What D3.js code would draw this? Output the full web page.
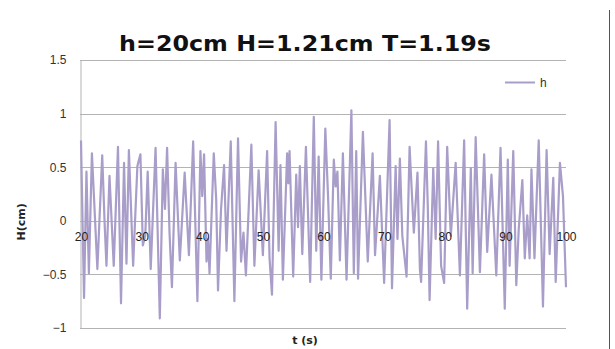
<!DOCTYPE html>
<html>
<head>
<meta charset="utf-8">
<script src="https://cdn.jsdelivr.net/npm/d3@7"></script>
<style>
  html, body { margin: 0; padding: 0; background: #fff; }
  svg { display: block; }
</style>
</head>
<body>
<svg id="chart" width="615" height="349"></svg>
<script>
// Wave record at gauge h: turning points of the surface elevation (time in s, H in cm)
const times = [
  20.0, 20.5, 20.9, 21.3, 21.8, 22.7, 23.5, 23.9, 24.2, 24.7, 25.4, 26.1, 26.6, 27.1, 27.5, 27.9, 28.6, 29.3,
  29.8, 30.2, 30.6, 31.0, 31.5, 32.3, 33.0, 33.5, 33.85, 34.2, 34.6, 35.0, 35.6, 36.3, 37.1, 37.8, 38.5, 39.2,
  39.7, 40.0, 40.3, 40.7, 40.95, 41.2, 41.9, 42.3, 42.6, 43.1, 43.6, 44.0, 44.7, 45.3, 45.9, 46.4, 46.8, 47.2, 48.1, 48.6,
  49.3, 50.0, 50.7, 51.1, 51.5, 52.1, 52.6, 52.9, 53.3, 54.0, 54.2, 54.4, 55.0, 55.5, 55.8, 56.1, 56.5, 57.1, 57.8, 58.4, 58.8, 59.2,
  59.65, 60.3, 60.75, 61.2, 61.7, 62.0, 62.3, 62.7, 63.2, 63.8, 64.6, 65.0, 65.4, 65.7, 66.5, 67.3, 68.1, 68.5,
  69.3, 70.0, 70.9, 71.3, 71.9, 72.2, 72.6, 73.0, 73.7, 74.2, 74.6, 74.9, 75.5, 75.9, 76.1, 76.9, 77.2, 77.5, 78.1, 78.5, 78.9,
  79.4, 79.9, 80.4, 81.0, 81.8, 82.5, 83.2, 83.7, 84.3, 84.6, 85.1, 85.8, 86.5, 87.0, 87.7, 88.5, 89.2,
  89.9, 90.4, 90.7, 91.3, 91.8, 92.2, 92.8, 93.2, 93.6, 94.0, 94.3, 94.8, 95.5, 96.2, 96.8, 97.3, 97.9, 98.3, 99.0, 99.5, 100.0
];
const elevation = [
  0.75, -0.72, 0.46, -0.49, 0.63, -0.45, 0.61, -0.03, -0.42, 0.42, -0.42, 0.69, -0.77, 0.54, -0.40, 0.66, -0.42, 0.51,
  0.62, -0.23, -0.14, 0.46, -0.45, 0.68, -0.91, 0.48, 0.11, 0.68, -0.11, -0.62, 0.54, -0.37, 0.45, -0.32, 0.74, -0.75,
  0.65, 0.23, 0.62, -0.38, -0.17, -0.49, 0.63, 0.20, -0.65, 0.11, 0.52, -0.28, 0.74, -0.75, 0.77, -0.38, -0.11, -0.51, 0.71, -0.42,
  0.47, -0.32, 0.65, -0.35, -0.69, 0.92, -0.28, 0.52, -0.55, 0.63, 0.35, 0.65, -0.52, 0.43, -0.06, 0.51, -0.31, 0.69, -0.57, 0.97, -0.28, 0.60,
  -0.55, 0.86, 0.23, -0.54, 0.57, 0.32, 0.46, -0.37, 0.63, -0.55, 1.03, -0.49, 0.65, -0.54, 0.83, -0.38, 0.63, -0.32,
  0.42, -0.58, 0.94, -0.63, 0.51, -0.17, 0.58, -0.14, -0.52, 0.69, 0.23, -0.11, 0.45, -0.45, -0.57, 0.74, 0.14, -0.74, 0.49, -0.17, 0.74,
  -0.42, -0.58, 0.69, -0.14, 0.54, -0.51, 0.75, -0.82, 0.49, -0.49, 0.78, -0.48, 0.62, -0.29, 0.43, -0.51, 0.68,
  -0.82, 0.57, -0.42, 0.65, -0.60, -0.08, 0.38, -0.35, 0.05, -0.35, 0.48, -0.35, 0.75, -0.80, 0.66, -0.31, 0.40, -0.57, 0.54, 0.23, -0.62
];
const yTicks = [-1, -0.5, 0, 0.5, 1, 1.5];
const xTicks = [20, 30, 40, 50, 60, 70, 80, 90, 100];
const seriesName = "h";
const chartTitle = "h=20cm H=1.21cm T=1.19s";
const xTitle = "t (s)";
const yTitle = "H(cm)";

const svg = d3.select("#chart");
const plot = { left: 81, right: 566, top: 60, bottom: 328 };

const x = d3.scaleLinear().domain([20, 100]).range([plot.left, plot.right]);
const y = d3.scaleLinear().domain([-1, 1.5]).range([plot.bottom, plot.top]);

const gridColor = "#b3b3b3";
const lineColor = "#a99ec9";

// outer frame edge on the right
svg.append("line")
  .attr("x1", 609.5).attr("x2", 609.5).attr("y1", 10).attr("y2", 349)
  .attr("stroke", "#555").attr("stroke-width", 1);

// horizontal gridlines
svg.append("g")
  .selectAll("line")
  .data(yTicks)
  .join("line")
  .attr("x1", plot.left - 1).attr("x2", plot.right)
  .attr("y1", d => Math.round(y(d)) + 0.5).attr("y2", d => Math.round(y(d)) + 0.5)
  .attr("stroke", gridColor).attr("stroke-width", 1);

// value axis on the left
const yAxis = d3.axisLeft(y).tickValues(yTicks).tickSize(0).tickPadding(14)
  .tickFormat(d => d3.format("")(d));
svg.append("g")
  .attr("transform", `translate(${plot.left - 0.5},0)`)
  .call(yAxis)
  .call(g => g.select(".domain").attr("stroke", gridColor))
  .call(g => g.selectAll("text")
    .attr("font-family", "Liberation Sans, Arial, sans-serif")
    .attr("font-size", 12).attr("fill", "#333"));

// surface elevation trace
const pts = times.map((t, i) => [t, elevation[i]]);
svg.append("path")
  .datum(pts)
  .attr("fill", "none")
  .attr("stroke", lineColor)
  .attr("stroke-width", 2.2)
  .attr("stroke-linejoin", "round")
  .attr("d", d3.line().x(d => x(d[0])).y(d => y(d[1])));

// time axis crossing at zero, labels drawn over the trace
const xAxis = d3.axisBottom(x).tickValues(xTicks).tickSize(0).tickPadding(11);
svg.append("g")
  .attr("transform", `translate(0,${Math.round(y(0)) + 0.5})`)
  .call(xAxis)
  .call(g => g.select(".domain").remove())
  .call(g => g.selectAll("text")
    .attr("font-family", "Liberation Sans, Arial, sans-serif")
    .attr("font-size", 12).attr("fill", "#222"));

// title
svg.append("text")
  .attr("x", 305).attr("y", 51)
  .attr("text-anchor", "middle")
  .attr("font-family", "DejaVu Sans, sans-serif")
  .attr("font-weight", "bold")
  .attr("font-size", 21)
  .attr("fill", "#111")
  .attr("textLength", 372).attr("lengthAdjust", "spacingAndGlyphs")
  .text(chartTitle);

// axis titles
svg.append("text")
  .attr("x", 305).attr("y", 344)
  .attr("text-anchor", "middle")
  .attr("font-family", "DejaVu Sans, sans-serif")
  .attr("font-weight", "bold").attr("font-size", 11).attr("fill", "#222")
  .text(xTitle);

svg.append("text")
  .attr("transform", `translate(25,${y(0) + 1}) rotate(-90)`)
  .attr("text-anchor", "middle")
  .attr("font-family", "DejaVu Sans, sans-serif")
  .attr("font-weight", "bold").attr("font-size", 11).attr("fill", "#222")
  .text(yTitle);

// legend
const legend = svg.append("g").attr("transform", "translate(505,82)");
legend.append("line")
  .attr("x1", 0).attr("x2", 30).attr("y1", 0.5).attr("y2", 0.5)
  .attr("stroke", lineColor).attr("stroke-width", 2);
legend.append("text")
  .attr("x", 35).attr("y", 4.5)
  .attr("font-family", "Liberation Sans, Arial, sans-serif")
  .attr("font-size", 12).attr("fill", "#333")
  .text(seriesName);
</script>
</body>
</html>
